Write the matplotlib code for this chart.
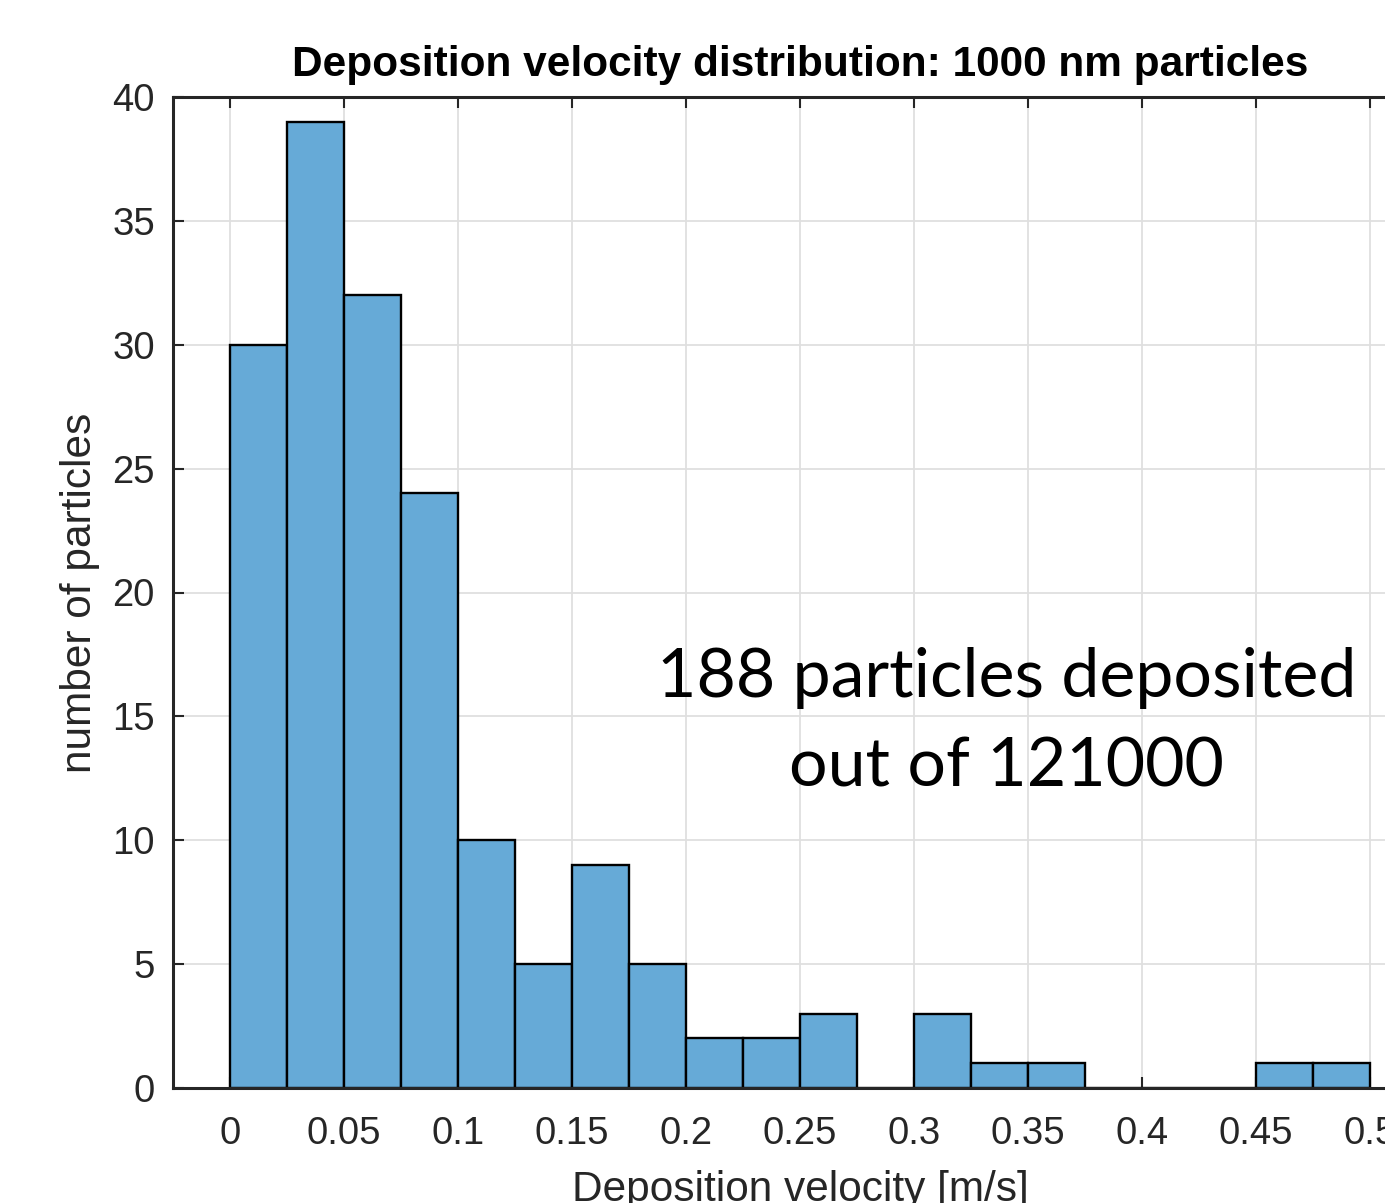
import numpy as np
import matplotlib
matplotlib.use("Agg")
import matplotlib.pyplot as plt

# ---- data ----
bin_edges = [0.0, 0.025, 0.05, 0.075, 0.1, 0.125, 0.15, 0.175, 0.2, 0.225,
             0.25, 0.275, 0.3, 0.325, 0.35, 0.375, 0.4, 0.425, 0.45, 0.475, 0.5]
counts = [30, 39, 32, 24, 10, 5, 9, 5, 2, 2, 3, 0, 3, 1, 1, 0, 0, 0, 1, 1]
x_ticks = [0, 0.05, 0.1, 0.15, 0.2, 0.25, 0.3, 0.35, 0.4, 0.45, 0.5]
x_tick_labels = ["0", "0.05", "0.1", "0.15", "0.2", "0.25", "0.3", "0.35", "0.4", "0.45", "0.5"]
y_ticks = [0, 5, 10, 15, 20, 25, 30, 35, 40]
title = "Deposition velocity distribution: 1000 nm particles"
xlabel = "Deposition velocity [m/s]"
ylabel = "number of particles"
note_line1 = "188 particles deposited"
note_line2 = "out of 121000"

W, H = 1385, 1203
fig = plt.figure(figsize=(W / 100, H / 100), dpi=100)
fig.patch.set_facecolor("white")

ax_left, ax_right, ax_top, ax_bottom = 173, 1427, 97, 1088
ax = fig.add_axes([ax_left / W, 1 - ax_bottom / H,
                   (ax_right - ax_left) / W, (ax_bottom - ax_top) / H])

axis_col = "#262626"
bar_col = (0.4, 0.668, 0.845)

ax.set_axisbelow(True)
ax.grid(True, color="#dfdfdf", linewidth=1.3)
ax.bar(bin_edges[:-1], counts, width=np.diff(bin_edges), align="edge",
       facecolor=bar_col, edgecolor="#000000", linewidth=1.7)

ax.set_xlim(-0.025, 0.525)
ax.set_ylim(0, 40)
ax.set_xticks(x_ticks)
ax.set_xticklabels(x_tick_labels)
ax.set_yticks(y_ticks)

font = "Liberation Sans"
ax.tick_params(direction="in", length=8, width=1.5, colors=axis_col,
               top=True, right=True, labelsize=27.5)
ax.tick_params(axis="y", pad=13)
ax.tick_params(axis="x", pad=20)
for lab in ax.get_xticklabels() + ax.get_yticklabels():
    lab.set_fontfamily(font)
for s in ax.spines.values():
    s.set_color(axis_col)
    s.set_linewidth(2.2)

ax.set_title(title, fontsize=30.5, fontweight="bold", family=font,
             color="black", pad=15)
ax.set_xlabel(xlabel, fontsize=30.5, family=font, color=axis_col, labelpad=13)
ax.set_ylabel(ylabel, fontsize=30.5, family=font, color=axis_col, labelpad=9)

note_font = "Lato"
ax.text(0.3406, 15.78, note_line1, ha="center", va="baseline",
        fontsize=49, family=note_font, color="black")
ax.text(0.3406, 12.15, note_line2, ha="center", va="baseline",
        fontsize=49, family=note_font, color="black")

fig.savefig("out.png", dpi=100, facecolor="white")
